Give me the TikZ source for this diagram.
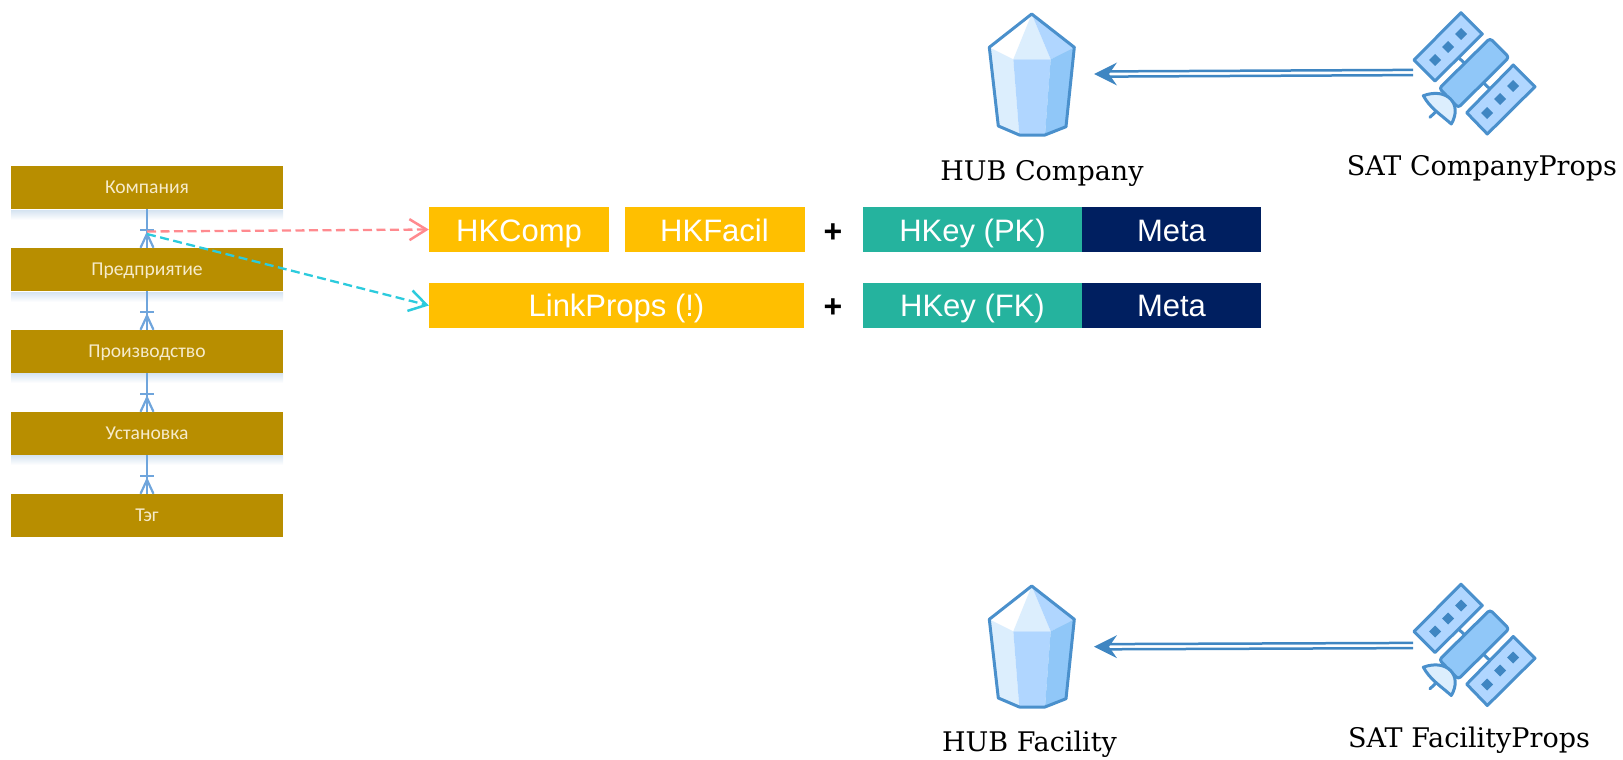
\documentclass[tikz,border=0pt]{standalone}
\usepackage{fontspec}
\setmainfont{Liberation Sans}
\newfontfamily\slabfont{DejaVu Serif}
\newfontfamily\ruscal{Carlito}
\usetikzlibrary{calc,arrows.meta,fit}
\definecolor{gold}{HTML}{B88E00}
\definecolor{goldtext}{HTML}{F6EBCB}
\definecolor{ambr}{HTML}{FFBF00}
\definecolor{tealb}{HTML}{25B39E}
\definecolor{navyb}{HTML}{001F60}
\definecolor{iconline}{HTML}{4A90CC}
\definecolor{icondark}{HTML}{3F86C2}
\definecolor{lightf}{HTML}{DCEEFD}
\definecolor{midf}{HTML}{B0D6FF}
\definecolor{deepf}{HTML}{90C7F8}
\definecolor{crow}{HTML}{6FA5DC}
\definecolor{redd}{HTML}{FF8A8F}
\definecolor{cyand}{HTML}{2CCBDD}
\definecolor{softshade}{HTML}{D5E3F1}
\tikzset{
  x=1pt,y=-1pt,
  entity/.style={fill=gold,text=goldtext,minimum width=272pt,minimum height=43pt,inner sep=0pt,text height=11.6pt,text depth=0pt,font=\ruscal\fontsize{19.6}{21}\selectfont},
  cell/.style={text=white,minimum height=45pt,inner sep=0pt,text height=23pt,text depth=0pt,font=\fontsize{31}{33}\selectfont},
  ambercell/.style={cell,fill=ambr},
  tealcell/.style={cell,fill=tealb},
  navycell/.style={cell,fill=navyb},
  plusmark/.style={font=\bfseries\fontsize{32}{32}\selectfont,text=black,inner sep=0pt},
  caption/.style={font=\slabfont\fontsize{27}{30}\selectfont,text=black,inner sep=0pt,anchor=base},
  crowline/.style={draw=crow,line width=2.2pt},
  reddash/.style={draw=redd,line width=2.3pt,dash pattern=on 9pt off 4.5pt,-{Straight Barb[length=17pt,width=21pt,line width=2.5pt]}},
  cyandash/.style={draw=cyand,line width=2.3pt,dash pattern=on 9pt off 4.5pt,-{Straight Barb[length=17pt,width=21pt,line width=2.5pt]}},
  iconstroke/.style={draw=iconline,line width=3pt,line join=round},
  doubleline/.style={draw=icondark,line width=2.5pt},
  hubicon/.pic={
    \fill[white] (1031.7,14)--(989.3,47.3)--(1013.3,59.3)--cycle;
    \fill[lightf] (1031.7,14)--(1013.3,59.3)--(1050.7,59.3)--cycle;
    \fill[midf] (1031.7,14)--(1050.7,59.3)--(1074.3,47.3)--cycle;
    \fill[lightf] (989.3,47.3)--(1013.3,59.3)--(1019.3,135)--(998.3,126)--cycle;
    \fill[midf] (1013.3,59.3)--(1050.7,59.3)--(1045,135)--(1019.3,135)--cycle;
    \fill[deepf] (1050.7,59.3)--(1074.3,47.3)--(1066,126.7)--(1045,135)--cycle;
    \draw[iconstroke] (1031.7,14)--(1074.3,47.3)--(1066,126.7)--(1045,135)--(1019.3,135)--(998.3,126)--(989.3,47.3)--cycle;
  },
  saticon/.pic={
    \draw[iconstroke] (1455,54.5)--(1465,63.5);
    \draw[iconstroke] (1481,80.5)--(1491,90);
    \draw[iconstroke,fill=midf] (1461,12.7)--(1482.3,34)--(1435,81)--(1414,60)--cycle;
    \draw[iconstroke,fill=midf] (1513.3,65)--(1535,86.7)--(1487.3,134)--(1466.7,112.7)--cycle;
    \draw[iconstroke,fill=deepf,rounded corners=3pt] (1490,38.3)--(1509,57.3)--(1458.3,107.7)--(1439.3,88.3)--cycle;
    \draw[iconstroke,line cap=round] (1430,117.3)--(1437,110.5);
    \draw[iconstroke,fill=lightf] (1423.3,95.7) .. controls (1447,87) and (1463,104) .. (1451.3,124) .. controls (1440,114) and (1430,108) .. (1423.3,95.7) -- cycle;
    \foreach \a/\b in {1435/60,1448/47,1461/34,1487/113,1500/99,1513/86}{
      \fill[icondark] (\a-6,\b)--(\a,\b-6)--(\a+6,\b)--(\a,\b+6)--cycle;
    }
  }
}
\begin{document}
\begin{tikzpicture}
\useasboundingbox (0,0) rectangle (1623,760);
% soft reflections under the entities
\foreach \yy in {210,292,373,455}{
  \shade[top color=softshade,bottom color=white] (11,\yy) rectangle (283,\yy+10);
}
\node[entity] (e1) at (147,187.5) {Компания};
\node[entity] (e2) at (147,269.5) {Предприятие};
\node[entity] (e3) at (147,351.5) {Производство};
\node[entity] (e4) at (147,433.5) {Установка};
\node[entity] (e5) at (147,515.5) {Тэг};
\foreach \u/\v in {e1/e2,e2/e3,e3/e4,e4/e5}{
  \draw[crowline] (\u.south) -- (\v.north);
  \draw[crowline] ([xshift=-7pt,yshift=18pt]\v.north) -- ([xshift=7pt,yshift=18pt]\v.north);
  \draw[crowline] ([xshift=-6.5pt]\v.north) -- ([yshift=14pt]\v.north) -- ([xshift=6.5pt]\v.north);
}
\node[ambercell,minimum width=180pt] (hkc) at (519,229.5) {HKComp};
\node[ambercell,minimum width=180pt] (hkf) at (714.5,229.5) {HKFacil};
\node[plusmark] (p1) at (833,233) {+};
\node[tealcell,minimum width=219pt] (pk) at (972.5,229.5) {HKey (PK)};
\node[navycell,minimum width=179pt] (m1) at (1171.5,229.5) {Meta};
\node[ambercell,minimum width=375pt] (lp) at (616.5,305) {LinkProps (!)};
\node[plusmark] (p2) at (833,308) {+};
\node[tealcell,minimum width=219pt] (fk) at (972.5,305) {HKey (FK)};
\node[navycell,minimum width=179pt] (m2) at (1171.5,305) {Meta};
\coordinate (rs) at (147,231.5);
\coordinate (cs) at (147,234);
\draw[reddash] (rs) -- (hkc.west);
\draw[cyandash] (cs) -- ([yshift=-0.5pt]lp.west);

\pic (hub1) at (0,0) {hubicon};
\pic (sat1) at (0,0) {saticon};
\pic (hub2) at (0,572) {hubicon};
\pic (sat2) at (0,571.5) {saticon};
\coordinate (a1s) at (1413,72.5);
\coordinate (a1e) at (1098,74);
\coordinate (a2s) at (1413,645.5);
\coordinate (a2e) at (1098,646.7);
\foreach \s/\e in {a1s/a1e,a2s/a2e}{
  \draw[doubleline] ([xshift=10pt,yshift=2.6pt]\e) -- ([yshift=2.6pt]\s);
  \draw[doubleline] ([xshift=10pt,yshift=-2.6pt]\e) -- ([yshift=-2.6pt]\s);
  \fill[icondark] ([xshift=-4pt]\e) -- ([xshift=19pt,yshift=11.5pt]\e) -- ([xshift=11pt]\e) -- ([xshift=19pt,yshift=-11.5pt]\e) -- cycle;
}
\node[caption] (c1) at (1042,180) {HUB Company};
\node[caption] (c2) at (1482,175.6) {SAT CompanyProps};
\node[caption] (c3) at (1029.5,751.7) {HUB Facility};
\node[caption] (c4) at (1469,747.3) {SAT FacilityProps};
\end{tikzpicture}
\end{document}
